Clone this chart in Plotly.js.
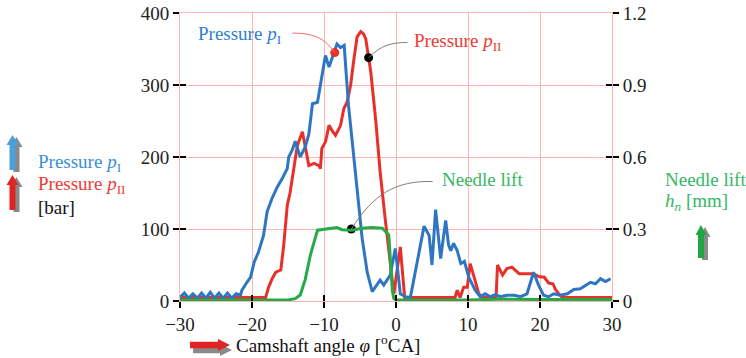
<!DOCTYPE html>
<html><head><meta charset="utf-8">
<script src="https://cdn.plot.ly/plotly-3.0.1.min.js"></script>
<style>html,body{margin:0;padding:0;background:#fff}#chart{width:746px;height:358px}
#chart svg text{font-family:'Liberation Serif','Times New Roman',serif !important}</style>
</head><body><div id="chart"></div>
<script>
// Pressure p_I [bar]
const pIx = [-30,-29.4,-28.8,-28.2,-27.6,-27,-26.4,-25.8,-25.2,-24.6,-24,-23.4,-22.8,-22.2,
  -21.6,-21.4,-20.7,-20.2,-19.7,-19.1,-18.4,-17.9,-17.2,-16.5,-15.8,-15.1,-14.9,-14.4,-14.0,-13.3,-12.6,-12.1,-11.6,-10.9,-10.5,-9.8,-9.3,-8.6,-8.2,-7.7,-7.2,
  -6.6,-5.6,-4.7,-4.0,-3.3,-2.2,-1.7,-0.8,-0.1,0.6,1.3,2.0,
  3.9,4.6,5.0,5.5,6.2,6.9,7.3,7.6,8.0,8.5,9.0,9.5,10.1,
  11.0,11.7,12.4,13.1,13.8,14.5,15.4,16.4,17.3,18.2,
  19.1,19.8,20.5,21.2,21.9,22.8,23.8,24.7,25.6,26.3,27.0,27.7,28.4,29.1,29.8];
const pIy = [5,11,4,10,4,11,4,12,4,11,4,11,4,10,
  8,15,26,33,54,68,91,124,143,158,170,184,200,210,222,200,214,232,274,276,300,341,325,346,357,352,355,
  272,179,87,40,13,29,22,36,73,10,6,5,
  104,91,50,127,59,112,78,70,80,70,52,55,33,
  15,6,10,6,9,6,8,8,6,10,
  40,22,8,6,10,8,10,16,17,22,26,24,31,27,31];
// Pressure p_II [bar]
const pIIx = [-30,-18.1,-17.7,-17.2,-16.7,-16.0,-15.6,-15.1,-14.7,-14.4,
  -13.7,-13.0,-12.6,-12.1,-11.4,-10.7,-10.5,-10.3,-9.8,-9.3,
  -8.9,-8.4,-7.7,-7.25,-6.8,-6.3,-5.9,-5.4,-4.9,-4.5,
  -4.2,-3.5,-2.8,-2.2,-1.5,-0.8,-0.3,0.6,1.2,8.2,
  8.5,8.9,9.4,9.9,10.3,10.8,11.5,12.0,13.9,14.1,
  14.8,15.4,16.1,17.1,19.1,19.8,20.6,21.2,21.8,22.1,
  22.6,23.1,30];
const pIIy = [5,5,19,31,40,43,77,133,151,170,
  216,235,212,188,191,188,184,212,221,244,
  237,230,244,267,276,300,332,367,374,371,
  364,318,249,179,114,50,10,75,5,5,
  15,5,19,19,52,35,10,5,5,50,
  36,45,47,38,38,34,33,25,24,17,
  10,5,5];
// Needle lift h_n [mm]
const liftX = [-30,-15,-14.0,-13.3,-12.6,-11.9,-10.9,-9.8,-8.2,-7.5,-6.1,-4.7,-3.3,-1.9,-1.0,-0.5,-0.3,0,10,15,20,30];
const liftY = [0.004,0.004,0.01,0.025,0.09,0.19,0.295,0.3,0.306,0.297,0.295,0.303,0.306,0.303,0.275,0.04,0.01,0.004,0.004,0.008,0.006,0.006];
// label dots (data units, left axis)
const dotX = [-8.5, -3.8, -6.2];
const dotY = [345, 338, 100];
const dotColor = ['#e8302a', '#000000', '#000000'];
// ticks
const xTicks = [-30,-20,-10,0,10,20,30];
const yLeftTicks = [0,100,200,300,400];
const yRightTicks = [0,0.3,0.6,0.9,1.2];
const yRightLabels = ['0','0.3','0.6','0.9','1.2'];

const BLUE = '#2f76c2', RED = '#e8302a', GREEN = '#25ab46';
const FONT = 'Liberation Serif';
const FS = 19;
const GRID = '#ffb4b4';

const L = 180, T = 13, W = 432, H = 288;
function pp(px, py) { return ((px - L) / W).toFixed(4) + ',' + ((T + H - py) / H).toFixed(4); }
function upArrow(cx, tip, base, hw, sw, hh) {
  return 'M' + pp(cx - sw, base) + ' L' + pp(cx - sw, tip + hh) + ' L' + pp(cx - hw, tip + hh) +
    ' L' + pp(cx, tip) + ' L' + pp(cx + hw, tip + hh) + ' L' + pp(cx + sw, tip + hh) + ' L' + pp(cx + sw, base) + ' Z';
}
function rightArrow(tail, tip, cy, hh, sw, hl) {
  return 'M' + pp(tail, cy - sw) + ' L' + pp(tip - hl, cy - sw) + ' L' + pp(tip - hl, cy - hh) +
    ' L' + pp(tip, cy) + ' L' + pp(tip - hl, cy + hh) + ' L' + pp(tip - hl, cy + sw) + ' L' + pp(tail, cy + sw) + ' Z';
}
function pshape(path, color) {
  return {type: 'path', xref: 'paper', yref: 'paper', path: path, fillcolor: color, line: {width: 0}, layer: 'above'};
}
const GRAY = '#8a8a8a';
const shapes = [
  pshape(upArrow(16.5, 137, 172, 6, 3, 10), GRAY),
  pshape(upArrow(12.5, 135, 170, 6, 3, 10), '#4b9fda'),
  pshape(upArrow(16.5, 177, 212, 6, 3, 10), GRAY),
  pshape(upArrow(12.5, 175, 210, 6, 3, 10), '#e02424'),
  pshape(upArrow(705, 227, 260, 5.5, 3, 10), GRAY),
  pshape(upArrow(701, 225, 258, 5.5, 3, 10), '#1ea544'),
  pshape(rightArrow(193, 232, 350, 6, 3.2, 12), GRAY),
  pshape(rightArrow(190, 230, 345, 6, 3.2, 12), '#e02424'),
  {type: 'path', xref: 'x', yref: 'y', path: 'M -14.4 372 C -11.5 372, -10 366, -8.5 345', line: {color: '#f06a6a', width: 1}},
  {type: 'path', xref: 'x', yref: 'y', path: 'M 1.6 359 C -0.5 359, -2 356, -3.8 338', line: {color: '#808080', width: 1}},
  {type: 'path', xref: 'x', yref: 'y', path: 'M 5.1 166 C 0 167, -3 150, -6.2 100', line: {color: '#808080', width: 1}}
];

function ann(text, px, pyMid, color) {
  return {xref: 'paper', yref: 'paper', x: (px - L) / W, y: (T + H - pyMid) / H,
    xanchor: 'left', yanchor: 'middle', showarrow: false, text: text,
    font: {family: FONT, size: FS, color: color}};
}
const annotations = [
  ann('Pressure <i>p</i><sub>I</sub>', 36, 163, '#3a8fd6'),
  ann('Pressure <i>p</i><sub>II</sub>', 36, 185, '#ec3b34'),
  ann('[bar]', 36, 207, '#111'),
  ann('Needle lift', 663, 179, '#35b866'),
  ann('<i>h<sub>n</sub></i> [mm]', 663, 202, '#35b866'),
  ann('Camshaft angle <i>φ</i> [<sup>o</sup>CA]', 234, 344, '#111'),
  ann('Pressure <i>p</i><sub>I</sub>', 196, 35, '#2f7fd0'),
  ann('Pressure <i>p</i><sub>II</sub>', 412, 42, '#ec3b34'),
  ann('Needle lift', 440, 179, '#35b866')
];

const traces = [
  {x: liftX, y: liftY, yaxis: 'y2', mode: 'lines', line: {color: GREEN, width: 3}, hoverinfo: 'skip'},
  {x: pIIx, y: pIIy, mode: 'lines', line: {color: RED, width: 3}, hoverinfo: 'skip'},
  {x: pIx, y: pIy, mode: 'lines', line: {color: BLUE, width: 3}, hoverinfo: 'skip'},
  {x: dotX, y: dotY, mode: 'markers', marker: {color: dotColor, size: 9}, hoverinfo: 'skip'},
  {x: pIx, y: pIy, xaxis: 'x2', yaxis: 'y3', mode: 'lines', opacity: 0, hoverinfo: 'skip'},
  {x: liftX, y: liftY, xaxis: 'x2', yaxis: 'y4', mode: 'lines', opacity: 0, hoverinfo: 'skip'}
];

const tickFont = {family: FONT, size: FS, color: '#222'};
const layout = {
  width: 746, height: 358,
  font: {family: FONT, size: FS, color: '#222'},
  margin: {l: L, r: 746 - L - W, t: T, b: 358 - T - H},
  paper_bgcolor: '#fff', plot_bgcolor: '#fff',
  showlegend: false, hovermode: false,
  xaxis: {range: [-30, 30], tickvals: xTicks, ticks: 'outside', ticklen: 6, tickwidth: 1.5, tickcolor: '#000',
    showgrid: true, gridcolor: GRID, gridwidth: 1, zeroline: false, showline: true, linecolor: GRID, mirror: true,
    tickfont: tickFont},
  xaxis2: {range: [-30, 30], overlaying: 'x', anchor: 'y', side: 'bottom', tickvals: xTicks, ticks: 'inside', ticklen: 6,
    tickwidth: 1.5, tickcolor: '#000', showgrid: false, zeroline: false, showticklabels: false, showline: false},
  yaxis: {range: [0, 400], tickvals: yLeftTicks, ticks: 'outside', ticklen: 6, tickwidth: 1.5, tickcolor: '#000',
    showgrid: true, gridcolor: GRID, gridwidth: 1, zeroline: false, showline: true, linecolor: GRID, mirror: true,
    tickfont: tickFont},
  yaxis2: {range: [0, 1.2], overlaying: 'y', side: 'right', anchor: 'x', tickvals: yRightTicks, ticktext: yRightLabels,
    ticks: 'outside', ticklen: 6, tickwidth: 1.5, tickcolor: '#000', showgrid: false, zeroline: false, showline: false,
    tickfont: tickFont},
  yaxis3: {range: [0, 400], overlaying: 'y', side: 'left', anchor: 'x', tickvals: yLeftTicks, ticks: 'inside', ticklen: 6,
    tickwidth: 1.5, tickcolor: '#000', showgrid: false, zeroline: false, showticklabels: false, showline: false},
  yaxis4: {range: [0, 1.2], overlaying: 'y', side: 'right', anchor: 'x', tickvals: yRightTicks, ticks: 'inside', ticklen: 6,
    tickwidth: 1.5, tickcolor: '#000', showgrid: false, zeroline: false, showticklabels: false, showline: false},
  shapes: shapes,
  annotations: annotations
};
Plotly.newPlot('chart', traces, layout, {displayModeBar: false});
</script></body></html>
